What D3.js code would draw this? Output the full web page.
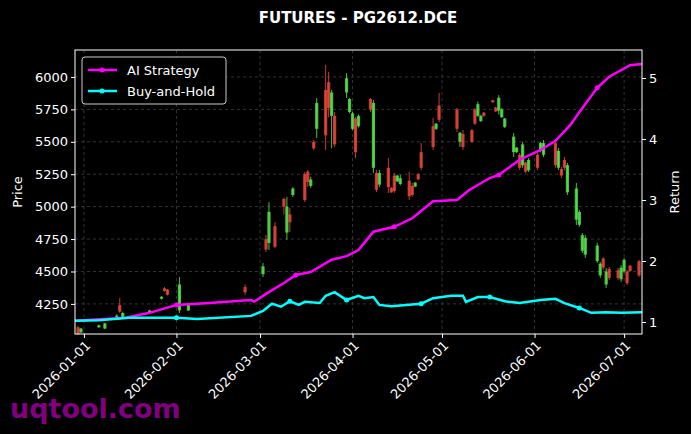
<!DOCTYPE html><html><head><meta charset="utf-8">
<script src="https://cdn.jsdelivr.net/npm/d3@7"></script>
<style>body{margin:0;background:#000}svg{display:block}text{font-family:"DejaVu Sans",sans-serif}</style>
</head><body><svg id="c" width="691" height="434"></svg>
<script>
const candleDates=["2025-12-30","2025-12-31","2026-01-06","2026-01-08","2026-01-12","2026-01-13","2026-01-14","2026-01-23","2026-01-27","2026-01-28","2026-01-29","2026-02-02","2026-02-05","2026-02-24","2026-03-02","2026-03-03","2026-03-04","2026-03-06","2026-03-09","2026-03-10","2026-03-11","2026-03-12","2026-03-16","2026-03-17","2026-03-18","2026-03-19","2026-03-20","2026-03-23","2026-03-24","2026-03-25","2026-03-26","2026-03-30","2026-03-31","2026-04-01","2026-04-02","2026-04-03","2026-04-07","2026-04-08","2026-04-09","2026-04-10","2026-04-13","2026-04-14","2026-04-15","2026-04-16","2026-04-17","2026-04-20","2026-04-21","2026-04-22","2026-04-23","2026-04-24","2026-04-28","2026-04-29","2026-04-30","2026-05-06","2026-05-07","2026-05-08","2026-05-11","2026-05-12","2026-05-13","2026-05-14","2026-05-15","2026-05-18","2026-05-19","2026-05-20","2026-05-21","2026-05-22","2026-05-25","2026-05-26","2026-05-27","2026-05-28","2026-05-29","2026-05-30","2026-06-02","2026-06-03","2026-06-04","2026-06-08","2026-06-09","2026-06-10","2026-06-11","2026-06-12","2026-06-15","2026-06-16","2026-06-17","2026-06-18","2026-06-22","2026-06-23","2026-06-24","2026-06-25","2026-06-26","2026-06-29","2026-06-30","2026-07-01","2026-07-02","2026-07-03","2026-07-06"];
const opens=[4070,4030,4070,4060,4130,4240,4140,4180,4290,4370,4360,4200,4200,4380,4480,4750,4720,4850,5060,4800,4940,5090,5250,5270,5160,5500,5600,5900,5960,5700,5700,5880,5730,5600,5680,5620,5830,5300,5260,5170,5300,5145,5240,5195,5175,5200,5160,5155,5250,5420,5620,5600,5780,5750,5500,5560,5590,5750,5700,5660,5725,5820,5765,5740,5690,5615,5420,5420,5400,5320,5340,5280,5400,5430,5400,5490,5300,5290,5360,5110,4900,4860,4660,4630,4580,4470,4600,4400,4520,4510,4440,4500,4500,4545,4580];
const highs=[4080,4065,4090,4105,4170,4296,4190,4205,4310,4380,4365,4458,4260,4400,4566,4782,5036,4880,5070,5075,4990,5150,5268,5283,5230,5514,5838,6093,6040,5900,5730,6030,5838,5730,5692,5710,5838,5823,5283,5283,5375,5150,5260,5245,5245,5268,5183,5190,5260,5491,5684,5645,5877,5761,5576,5591,5600,5761,5810,5710,5730,5823,5770,5860,5761,5684,5568,5460,5414,5500,5345,5375,5414,5500,5514,5514,5452,5306,5383,5337,5183,4975,4797,4782,4720,4574,4612,4527,4535,4527,4550,4605,4512,4550,4590];
const lows=[4010,4025,4065,4055,4125,4180,4135,4175,4285,4345,4315,4180,4195,4320,4458,4651,4666,4680,4940,4745,4805,5075,5036,5152,5145,5437,5530,5437,5690,5450,5460,5838,5720,5590,5375,5610,5730,5260,5113,5150,5106,5106,5106,5190,5165,5052,5075,5150,5205,5283,5437,5590,5653,5576,5460,5437,5491,5630,5692,5653,5692,5800,5730,5710,5684,5606,5383,5414,5283,5300,5260,5268,5283,5420,5383,5300,5283,5220,5283,5090,4859,4845,4643,4605,4566,4450,4512,4373,4435,4435,4420,4490,4396,4497,4458];
const closes=[4020,4060,4085,4100,4160,4190,4180,4200,4305,4350,4320,4400,4250,4340,4540,4670,4960,4690,5000,5000,4880,5140,5050,5190,5210,5450,5800,5550,5760,5880,5480,5990,5830,5720,5420,5700,5750,5800,5130,5260,5150,5110,5120,5240,5220,5080,5090,5185,5210,5300,5460,5640,5670,5600,5570,5460,5500,5640,5790,5700,5700,5805,5735,5840,5750,5680,5540,5455,5300,5480,5270,5360,5300,5490,5490,5320,5430,5240,5300,5320,5140,4960,4780,4760,4700,4560,4530,4500,4450,4450,4530,4590,4410,4505,4470];
const stratDates=["2025-12-29","2026-01-15","2026-01-23","2026-02-01","2026-02-12","2026-02-26","2026-02-27","2026-03-03","2026-03-09","2026-03-13","2026-03-18","2026-03-25","2026-03-30","2026-04-03","2026-04-08","2026-04-15","2026-04-21","2026-04-28","2026-05-06","2026-05-10","2026-05-17","2026-05-20","2026-05-27","2026-06-03","2026-06-08","2026-06-13","2026-06-16","2026-06-22","2026-06-26","2026-07-03","2026-07-07"];
const stratValues=[1.02,1.07,1.15,1.28,1.31,1.36,1.33,1.46,1.64,1.77,1.82,2.02,2.08,2.18,2.48,2.56,2.70,2.98,3.00,3.16,3.36,3.41,3.66,3.82,3.97,4.23,4.44,4.84,5.02,5.21,5.23];
const bhDates=["2025-12-29","2026-01-06","2026-01-16","2026-02-01","2026-02-08","2026-02-26","2026-03-02","2026-03-05","2026-03-08","2026-03-11","2026-03-14","2026-03-16","2026-03-21","2026-03-23","2026-03-26","2026-03-30","2026-04-03","2026-04-05","2026-04-08","2026-04-10","2026-04-14","2026-04-24","2026-04-28","2026-05-04","2026-05-08","2026-05-09","2026-05-13","2026-05-17","2026-05-22","2026-05-27","2026-06-03","2026-06-08","2026-06-11","2026-06-16","2026-06-20","2026-06-25","2026-06-30","2026-07-07"];
const bhValues=[1.02,1.03,1.07,1.07,1.05,1.10,1.18,1.30,1.25,1.34,1.28,1.33,1.31,1.43,1.49,1.36,1.43,1.39,1.41,1.28,1.26,1.30,1.39,1.43,1.43,1.33,1.41,1.41,1.34,1.31,1.36,1.38,1.31,1.23,1.15,1.16,1.15,1.16];
const priceTicks=[4250,4500,4750,5000,5250,5500,5750,6000];
const returnTicks=[1,2,3,4,5];
const monthTicks=["2026-01-01","2026-02-01","2026-03-01","2026-04-01","2026-05-01","2026-06-01","2026-07-01"];

const P=d3.timeParse("%Y-%m-%d");
const svg=d3.select("#c");
const L=75,R=642,T=50,B=334;
const x=d3.scaleTime().domain([P("2025-12-29"),P("2026-07-07")]).range([L,R]);
const y=d3.scaleLinear().domain([4018,6208]).range([B,T]);
const y2=d3.scaleLinear().domain([0.803,5.459]).range([B,T]);
const g=svg.append("g");
g.selectAll(".gh").data(priceTicks).join("line").attr("x1",L).attr("x2",R).attr("y1",d=>y(d)).attr("y2",d=>y(d)).attr("stroke","#555").attr("stroke-dasharray","3,3").attr("stroke-width",0.6);
g.selectAll(".gv").data(monthTicks).join("line").attr("x1",d=>x(P(d))).attr("x2",d=>x(P(d))).attr("y1",T).attr("y2",B).attr("stroke","#555").attr("stroke-dasharray","3,3").attr("stroke-width",0.6);
const cd=candleDates.map((d,i)=>({t:P(d),o:opens[i],h:highs[i],l:lows[i],c:closes[i]}));
const col=d=>d.c>=d.o?"#55e24a":"#e8473c";
g.selectAll(".w").data(cd).join("line").attr("x1",d=>x(d.t)).attr("x2",d=>x(d.t)).attr("y1",d=>y(d.h)).attr("y2",d=>y(d.l)).attr("stroke",col).attr("stroke-width",1).attr("opacity",0.85);
g.selectAll(".b").data(cd).join("rect").attr("x",d=>x(d.t)-1.6).attr("width",3.2).attr("y",d=>y(Math.max(d.o,d.c))).attr("height",d=>Math.max(1,Math.abs(y(d.o)-y(d.c)))).attr("fill",col).attr("opacity",0.85);
function series(dates,vals,color){
  const pts=dates.map((d,i)=>[x(P(d)),y2(vals[i])]);
  g.append("path").attr("d",d3.line()(pts)).attr("fill","none").attr("stroke",color).attr("stroke-width",2.5);
  g.selectAll(null).data(pts.filter((p,i)=>i%6===3)).join("circle").attr("cx",p=>p[0]).attr("cy",p=>p[1]).attr("r",2.5).attr("fill",color);
}
series(stratDates,stratValues,"#ff00ff");
series(bhDates,bhValues,"#00ffff");
g.append("rect").attr("x",L).attr("y",T).attr("width",R-L).attr("height",B-T).attr("fill","none").attr("stroke","#fff").attr("stroke-width",1);
const ax=svg.append("g").attr("transform",`translate(${L},0)`).call(d3.axisLeft(y).tickValues(priceTicks).tickSize(4).tickFormat(d3.format("d")));
const ax2=svg.append("g").attr("transform",`translate(${R},0)`).call(d3.axisRight(y2).tickValues(returnTicks).tickSize(4).tickFormat(d3.format("d")));
const axb=svg.append("g").attr("transform",`translate(0,${B})`).call(d3.axisBottom(x).tickValues(monthTicks.map(P)).tickSize(4).tickFormat(d3.timeFormat("%Y-%m-%d")));
[ax,ax2,axb].forEach(a=>{a.select(".domain").remove();a.selectAll("line").attr("stroke","#fff");a.selectAll("text").attr("fill","#fff").style("font-size","13px").style("font-family","DejaVu Sans");});
axb.selectAll("text").attr("text-anchor","end").attr("transform","rotate(-45)").attr("dx","-0.3em").attr("dy","0.5em");
svg.append("text").attr("x",358).attr("y",23).attr("text-anchor","middle").attr("fill","#fff").style("font-size","15px").style("font-weight","bold").text("FUTURES - PG2612.DCE");
svg.append("text").attr("transform","translate(22,192) rotate(-90)").attr("text-anchor","middle").attr("fill","#fff").style("font-size","13px").text("Price");
svg.append("text").attr("transform","translate(679,192) rotate(-90)").attr("text-anchor","middle").attr("fill","#fff").style("font-size","13px").text("Return");
const lg=svg.append("g");
lg.append("rect").attr("x",82).attr("y",57).attr("width",144).attr("height",47).attr("rx",3).attr("fill","#000").attr("stroke","#ccc");
[["AI Strategy","#ff00ff",70],["Buy-and-Hold","#00ffff",91]].forEach(([t,c,yy])=>{
  lg.append("line").attr("x1",88).attr("x2",117).attr("y1",yy).attr("y2",yy).attr("stroke",c).attr("stroke-width",2.5);
  lg.append("circle").attr("cx",102).attr("cy",yy).attr("r",2.5).attr("fill",c);
  lg.append("text").attr("x",127).attr("y",yy+4.5).attr("fill","#fff").style("font-size","13px").text(t);
});
svg.append("text").attr("x",10).attr("y",418).attr("fill","#800080").style("font-size","27px").style("font-weight","bold").text("uqtool.com");
</script></body></html>
